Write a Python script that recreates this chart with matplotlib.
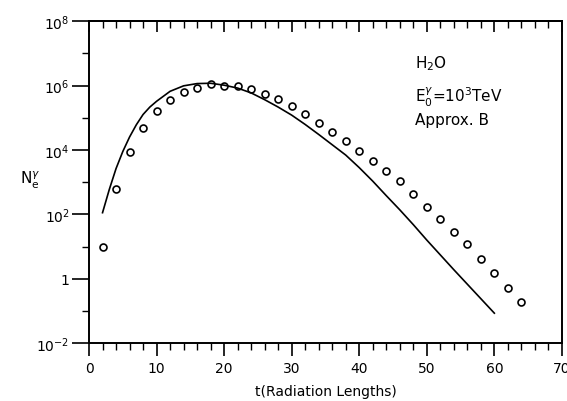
import numpy as np
import matplotlib.pyplot as plt

# open circles: shower size at even depths (log10 of N)
t_pts = [2, 4, 6, 8, 10, 12, 14, 16, 18, 20, 22, 24, 26, 28, 30, 32,
         34, 36, 38, 40, 42, 44, 46, 48, 50, 52, 54, 56, 58, 60, 62, 64]
logN_pts = [0.99, 2.80, 3.92, 4.67, 5.20, 5.54, 5.79, 5.91, 6.04, 5.98, 5.98, 5.88,
            5.73, 5.57, 5.35, 5.10, 4.85, 4.57, 4.29, 3.98, 3.67, 3.33, 3.02, 2.64,
            2.24, 1.86, 1.46, 1.08, 0.62, 0.18, -0.29, -0.72]

# solid curve
t_line = [2, 3, 4, 5, 6, 7, 8, 9, 10, 12, 14, 16, 18, 20, 22, 24, 26, 28, 30,
          32, 34, 36, 38, 40, 42, 44, 46, 48, 50, 52, 54, 56, 58, 60]
logN_line = [2.05, 2.77, 3.42, 3.95, 4.40, 4.78, 5.10, 5.33, 5.51, 5.82, 5.99, 6.06,
             6.07, 6.01, 5.92, 5.77, 5.56, 5.33, 5.08, 4.79, 4.48, 4.16, 3.84, 3.45,
             3.03, 2.58, 2.14, 1.68, 1.20, 0.74, 0.28, -0.17, -0.62, -1.07]

ytick_vals = [1e-2, 1, 1e2, 1e4, 1e6, 1e8]
ytick_labels = [r'$10^{-2}$', '1', r'$10^{2}$', r'$10^{4}$', r'$10^{6}$', r'$10^{8}$']

fig = plt.figure(figsize=(5.67, 4.02), dpi=100)
ax = fig.add_axes([0.157, 0.144, 0.834, 0.801])

ax.plot(t_line, 10 ** np.array(logN_line), color='black', lw=1.2)
ax.plot(t_pts, 10 ** np.array(logN_pts), 'o', ms=5, mfc='none', mec='black', mew=1.2)

ax.set_yscale('log')
ax.set_xlim(0, 70)
ax.set_ylim(1e-2, 1e8)

for s in ax.spines.values():
    s.set_linewidth(1.4)

ax.set_xticks(range(0, 71, 10))
ax.set_xticks(range(0, 71, 2), minor=True)
ax.set_yticks(ytick_vals)
ax.set_yticklabels(ytick_labels)
ax.set_yticks([1e-1, 10, 1e3, 1e5, 1e7], minor=True)
ax.yaxis.set_minor_formatter(plt.NullFormatter())

ax.tick_params(axis='x', which='major', direction='out', length=9, width=1.2,
               labelsize=10, pad=4, top=False)
ax.tick_params(axis='x', which='minor', direction='out', length=5, width=1.0, top=False)
ax.tick_params(axis='y', which='major', direction='out', length=12, width=1.2,
               labelsize=10, pad=2, right=False)
ax.tick_params(axis='y', which='minor', direction='out', length=5, width=1.0, right=False)

# inward ticks along the top edge
top = ax.secondary_xaxis('top')
top.set_xticks(range(0, 71, 10))
top.set_xticks(range(0, 71, 2), minor=True)
top.tick_params(which='major', direction='in', length=8, width=1.2, labeltop=False)
top.tick_params(which='minor', direction='in', length=5, width=1.0)
top.spines['top'].set_linewidth(1.4)

ax.set_xlabel('t(Radiation Lengths)', fontsize=10, labelpad=6)
fig.text(0.035, 0.55, r'N$_\mathrm{e}^{\gamma}$', fontsize=11, ha='left', va='center')

ax.text(0.69, 0.857, r'H$_2$O', transform=ax.transAxes, fontsize=11)
ax.text(0.69, 0.75, r'E$_0^{\gamma}$=10$^3$TeV', transform=ax.transAxes, fontsize=11)
ax.text(0.69, 0.68, 'Approx. B', transform=ax.transAxes, fontsize=11)

fig.savefig('out.png', dpi=100)
